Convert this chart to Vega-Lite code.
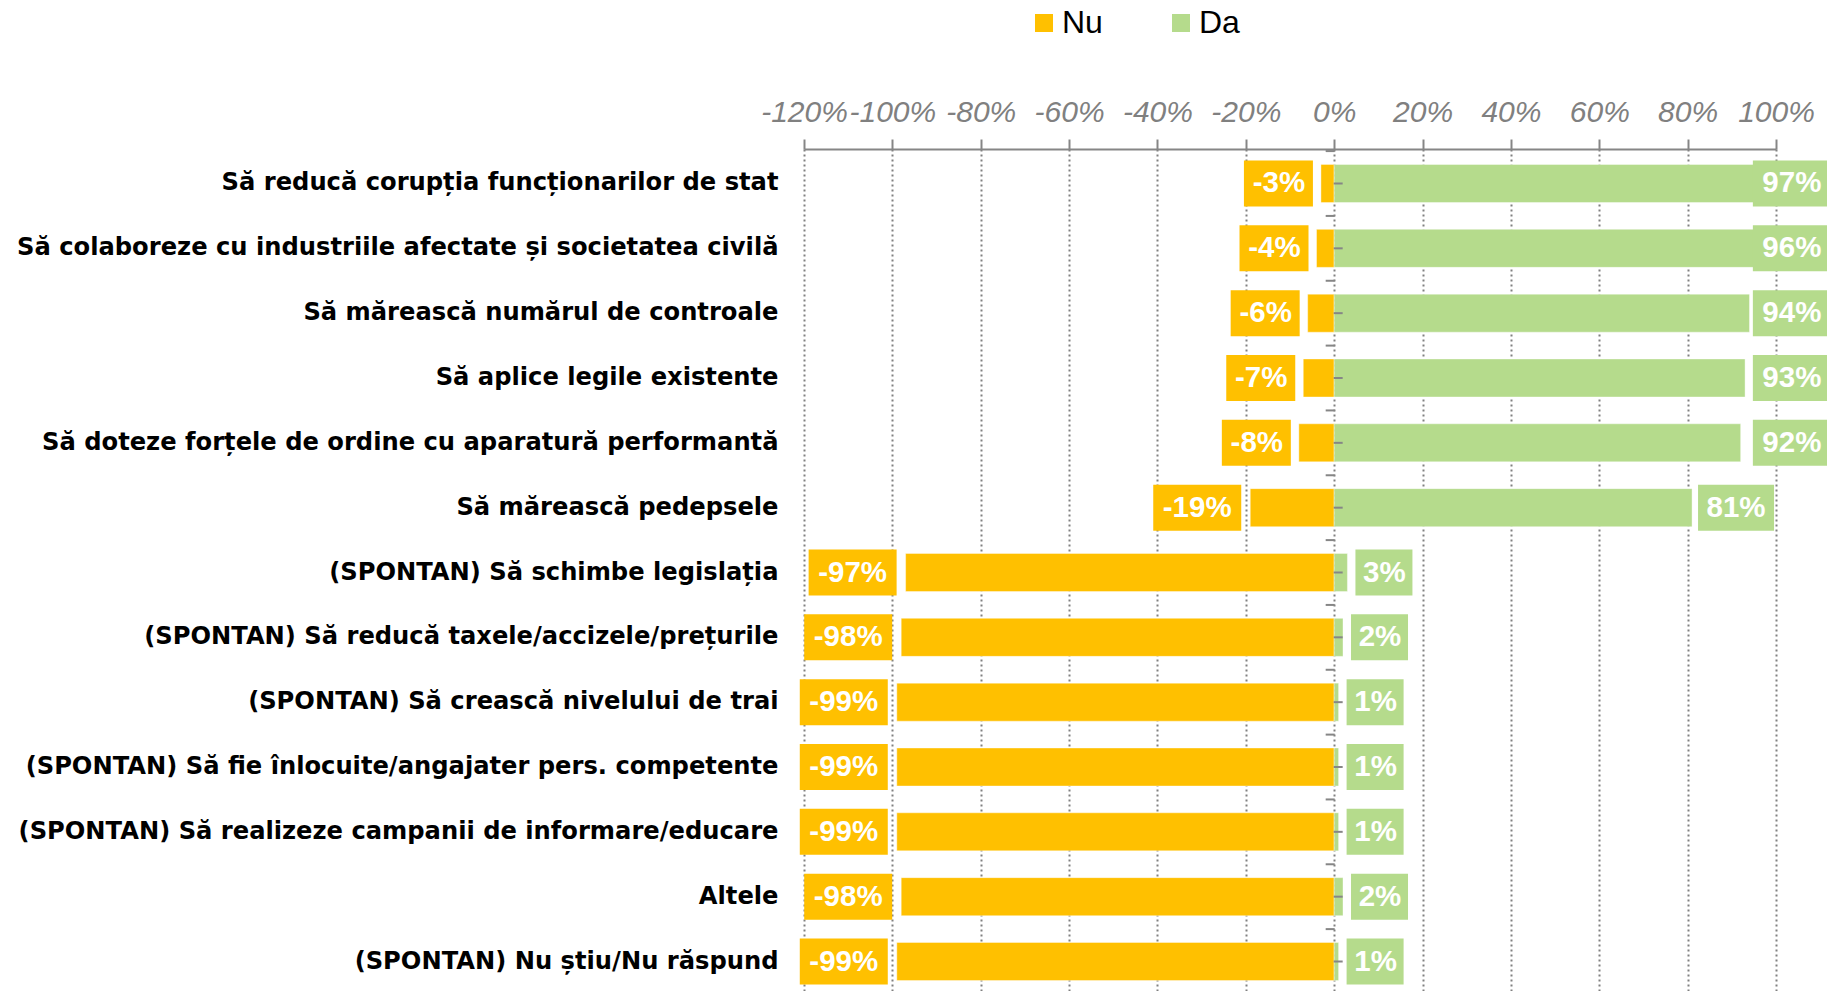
{
  "$schema": "https://vega.github.io/schema/vega-lite/v6.json",
  "autosize": {"type": "none"},
  "width": 972,
  "height": 847,
  "padding": {"left": 804, "top": 149, "right": 51, "bottom": 0},
  "background": "white",
  "config": {
    "locale": {"number": {"decimal": ".", "thousands": ",", "grouping": [3], "currency": ["", ""], "minus": "-", "percent": "%"}},
    "view": {"stroke": null},
    "font": "Liberation Sans"
  },
  "data": {
    "values": [
      {"cat": "Să reducă corupția funcționarilor de stat", "Nu": -0.03, "Da": 0.97},
      {"cat": "Să colaboreze cu industriile afectate și societatea civilă", "Nu": -0.04, "Da": 0.96},
      {"cat": "Să mărească numărul de controale", "Nu": -0.06, "Da": 0.94},
      {"cat": "Să aplice legile existente", "Nu": -0.07, "Da": 0.93},
      {"cat": "Să doteze forțele de ordine cu aparatură performantă", "Nu": -0.08, "Da": 0.92},
      {"cat": "Să mărească pedepsele", "Nu": -0.19, "Da": 0.81},
      {"cat": "(SPONTAN) Să schimbe legislația", "Nu": -0.97, "Da": 0.03},
      {"cat": "(SPONTAN) Să reducă taxele/accizele/prețurile", "Nu": -0.98, "Da": 0.02},
      {"cat": "(SPONTAN) Să crească nivelului de trai", "Nu": -0.99, "Da": 0.01},
      {"cat": "(SPONTAN) Să fie înlocuite/angajater pers. competente", "Nu": -0.99, "Da": 0.01},
      {"cat": "(SPONTAN) Să realizeze campanii de informare/educare", "Nu": -0.99, "Da": 0.01},
      {"cat": "Altele", "Nu": -0.98, "Da": 0.02},
      {"cat": "(SPONTAN) Nu știu/Nu răspund", "Nu": -0.99, "Da": 0.01}
    ]
  },
  "encoding": {
    "y": {
      "field": "cat",
      "type": "nominal",
      "sort": null,
      "title": null,
      "scale": {"paddingInner": 0.413, "paddingOuter": 0.2385},
      "axis": {
        "orient": "left",
        "domain": false,
        "ticks": false,
        "grid": false,
        "labelPadding": 26,
        "labelFont": "DejaVu Sans",
        "labelFontWeight": "bold",
        "labelFontSize": 24.2,
        "labelColor": "#000000",
        "labelLimit": 1000
      }
    }
  },
  "layer": [
    {
      "transform": [{"fold": ["Nu", "Da"], "as": ["key", "value"]}],
      "mark": {"type": "bar", "stroke": "#ffffff", "strokeWidth": 1, "strokeOpacity": 0.4},
      "encoding": {
        "x": {
          "field": "value",
          "type": "quantitative",
          "stack": null,
          "title": null,
          "scale": {"domain": [-1.2, 1], "nice": false, "zero": false},
          "axis": {
            "orient": "top",
            "values": [-1.2, -1, -0.8, -0.6, -0.4, -0.2, 0, 0.2, 0.4, 0.6, 0.8, 1],
            "format": ".0%",
            "labelOverlap": false,
            "labelFlush": false,
            "labelBound": false,
            "labelFont": "Liberation Sans",
            "labelFontStyle": "italic",
            "labelFontSize": 30,
            "labelColor": "#808080",
            "labelPadding": 12,
            "domain": true,
            "domainColor": "#868686",
            "domainWidth": 2,
            "ticks": true,
            "tickSize": 10,
            "tickColor": "#868686",
            "tickWidth": 2,
            "grid": true,
            "gridColor": "#808080",
            "gridWidth": 2,
            "gridDash": [2, 3]
          }
        },
        "color": {
          "field": "key",
          "type": "nominal",
          "scale": {"domain": ["Nu", "Da"], "range": ["#FFC000", "#B5DB8C"]},
          "legend": {
            "orient": "none",
            "legendX": 224,
            "legendY": -142,
            "direction": "horizontal",
            "title": null,
            "symbolType": "square",
            "symbolSize": 324,
            "symbolStrokeWidth": 0,
            "labelFont": "Liberation Sans",
            "labelFontSize": 32,
            "labelColor": "#000000",
            "labelOffset": 2,
            "columnPadding": 62,
            "padding": 0
          }
        }
      }
    },
    {
      "mark": {"type": "rule", "color": "#868686", "strokeWidth": 2},
      "encoding": {"x": {"datum": 0, "type": "quantitative", "title": null}}
    },
    {
      "mark": {"type": "tick", "orient": "horizontal", "color": "#868686", "size": 9, "thickness": 2, "xOffset": -4, "yOffset": -32.4, "opacity": 1},
      "encoding": {"x": {"datum": 0, "type": "quantitative", "title": null}}
    },
    {
      "mark": {"type": "tick", "orient": "horizontal", "color": "#868686", "size": 9, "thickness": 2, "xOffset": 4, "opacity": 1},
      "encoding": {"x": {"datum": 0, "type": "quantitative", "title": null}}
    },
    {
      "transform": [{"filter": {"field": "Nu", "gt": -0.1}}],
      "mark": {"type": "bar", "color": "#FFC000", "height": 46, "xOffset": -77, "x2Offset": -8},
      "encoding": {
        "x": {"field": "Nu", "type": "quantitative", "title": null},
        "x2": {"field": "Nu"}
      }
    },
    {
      "transform": [{"filter": {"field": "Nu", "lte": -0.1}}],
      "mark": {"type": "bar", "color": "#FFC000", "height": 46, "xOffset": -97, "x2Offset": -9},
      "encoding": {
        "x": {"field": "Nu", "type": "quantitative", "title": null},
        "x2": {"field": "Nu"}
      }
    },
    {
      "transform": [{"filter": {"field": "Da", "lt": 0.1}}],
      "mark": {"type": "bar", "color": "#B5DB8C", "height": 46, "xOffset": 8, "x2Offset": 65},
      "encoding": {
        "x": {"field": "Da", "type": "quantitative", "title": null},
        "x2": {"field": "Da"}
      }
    },
    {
      "transform": [{"filter": {"field": "Da", "range": [0.1, 0.9]}}],
      "mark": {"type": "bar", "color": "#B5DB8C", "height": 46, "xOffset": 6, "x2Offset": 82},
      "encoding": {
        "x": {"field": "Da", "type": "quantitative", "title": null},
        "x2": {"field": "Da"}
      }
    },
    {
      "transform": [{"filter": {"field": "Da", "gt": 0.9}}],
      "mark": {"type": "bar", "color": "#B5DB8C", "height": 46, "xOffset": 10, "x2Offset": 86},
      "encoding": {
        "x": {"datum": 0.925, "type": "quantitative", "title": null},
        "x2": {"datum": 0.925}
      }
    },
    {
      "transform": [{"filter": {"field": "Nu", "gt": -0.1}}],
      "mark": {"type": "text", "color": "#ffffff", "font": "Liberation Sans", "fontWeight": "bold", "fontSize": 29.5, "align": "center", "baseline": "middle", "xOffset": -42},
      "encoding": {
        "x": {"field": "Nu", "type": "quantitative", "title": null},
        "text": {"field": "Nu", "type": "quantitative", "format": ".0%"}
      }
    },
    {
      "transform": [{"filter": {"field": "Nu", "lte": -0.1}}],
      "mark": {"type": "text", "color": "#ffffff", "font": "Liberation Sans", "fontWeight": "bold", "fontSize": 29.5, "align": "center", "baseline": "middle", "xOffset": -53},
      "encoding": {
        "x": {"field": "Nu", "type": "quantitative", "title": null},
        "text": {"field": "Nu", "type": "quantitative", "format": ".0%"}
      }
    },
    {
      "transform": [{"filter": {"field": "Da", "lt": 0.1}}],
      "mark": {"type": "text", "color": "#ffffff", "font": "Liberation Sans", "fontWeight": "bold", "fontSize": 29.5, "align": "center", "baseline": "middle", "xOffset": 37},
      "encoding": {
        "x": {"field": "Da", "type": "quantitative", "title": null},
        "text": {"field": "Da", "type": "quantitative", "format": ".0%"}
      }
    },
    {
      "transform": [{"filter": {"field": "Da", "range": [0.1, 0.9]}}],
      "mark": {"type": "text", "color": "#ffffff", "font": "Liberation Sans", "fontWeight": "bold", "fontSize": 29.5, "align": "center", "baseline": "middle", "xOffset": 44},
      "encoding": {
        "x": {"field": "Da", "type": "quantitative", "title": null},
        "text": {"field": "Da", "type": "quantitative", "format": ".0%"}
      }
    },
    {
      "transform": [{"filter": {"field": "Da", "gt": 0.9}}],
      "mark": {"type": "text", "color": "#ffffff", "font": "Liberation Sans", "fontWeight": "bold", "fontSize": 29.5, "align": "center", "baseline": "middle", "xOffset": 49},
      "encoding": {
        "x": {"datum": 0.925, "type": "quantitative", "title": null},
        "text": {"field": "Da", "type": "quantitative", "format": ".0%"}
      }
    }
  ]
}
